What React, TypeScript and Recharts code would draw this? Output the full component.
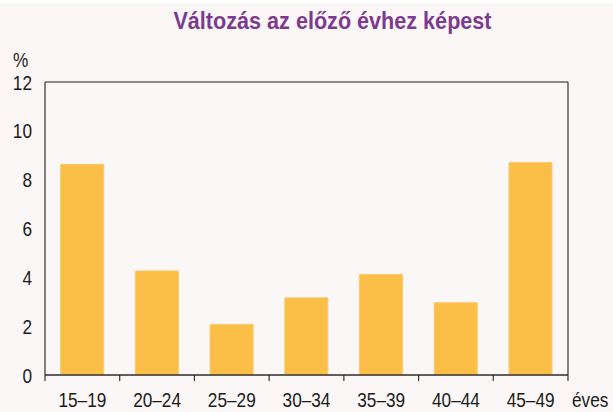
import React from 'react';
import { BarChart, Bar, XAxis, YAxis, CartesianGrid, ReferenceLine } from 'recharts';

const categories: string[] = ['15–19', '20–24', '25–29', '30–34', '35–39', '40–44', '45–49'];
const values: number[] = [8.62, 4.26, 2.07, 3.16, 4.12, 2.96, 8.7];
const yTicks: number[] = [0, 2, 4, 6, 8, 10, 12];
const titleText = 'Változás az előző évhez képest';
const yUnit = '%';
const xUnit = 'éves';

const data = categories.map((c, i) => ({ cat: c, value: values[i] }));

const SANS = '"Liberation Sans", Arial, sans-serif';
const AXIS = '#333333';
const TXT = '#1a1a1a';
const NARROW_SCALE = 0.82;

const NarrowText = ({ x, y, anchor, children, size = 21 }: any) => (
  <text
    transform={`translate(${x},${y}) scale(${NARROW_SCALE},1)`}
    x={0}
    y={0}
    textAnchor={anchor}
    fontFamily={SANS}
    fontSize={size}
    fill={TXT}
  >
    {children}
  </text>
);

const XTick = (props: any) => {
  const { x, y, payload, index, visibleTicksCount } = props;
  const half = payload && payload.offset != null ? payload.offset : 0;
  return (
    <g>
      <line x1={x - half} x2={x - half} y1={y} y2={y + 6} stroke={AXIS} strokeWidth={1.2} />
      {index === visibleTicksCount - 1 && (
        <line x1={x + half} x2={x + half} y1={y} y2={y + 6} stroke={AXIS} strokeWidth={1.2} />
      )}
      <NarrowText x={x} y={y + 32} anchor="middle">
        {payload.value}
      </NarrowText>
    </g>
  );
};

const YTick = (props: any) => {
  const { x, y, payload } = props;
  return (
    <NarrowText x={x} y={y + 7.5} anchor="end">
      {payload.value}
    </NarrowText>
  );
};

export default function App() {
  return (
    <div
      style={{
        position: 'absolute',
        left: 0,
        top: 0,
        width: 613,
        height: 412,
        background: '#fbf7f6',
        overflow: 'hidden',
      }}
    >
      <div style={{ position: 'absolute', left: 0, top: 0, width: 613, height: 3, background: '#ffffff' }} />
      <BarChart
        width={613}
        height={412}
        data={data}
        margin={{ top: 82, right: 0, bottom: 0, left: 0 }}
        barCategoryGap="21%"
      >
        <CartesianGrid vertical={false} stroke="#d5d1cf" strokeWidth={1} />
        <XAxis
          dataKey="cat"
          height={37}
          axisLine={{ stroke: AXIS, strokeWidth: 1.3 }}
          tickLine={false}
          tickSize={0}
          tickMargin={0}
          interval={0}
          tick={<XTick />}
        />
        <YAxis
          yAxisId="left"
          width={45}
          domain={[0, 12]}
          ticks={yTicks}
          interval={0}
          axisLine={{ stroke: AXIS, strokeWidth: 1.2 }}
          tickLine={false}
          tickSize={6}
          tickMargin={7}
          tick={<YTick />}
        />
        <YAxis
          yAxisId="right"
          orientation="right"
          width={45}
          domain={[0, 12]}
          ticks={yTicks}
          axisLine={{ stroke: AXIS, strokeWidth: 1.2 }}
          tickLine={false}
          tick={false}
        />
        <ReferenceLine yAxisId="left" y={12} stroke={AXIS} strokeWidth={1.2} ifOverflow="extendDomain" />
        <Bar
          yAxisId="left"
          dataKey="value"
          fill="#fbbe46"
          stroke="#fcc86a"
          strokeWidth={1}
          isAnimationActive={false}
        />
      </BarChart>
      <svg
        width={613}
        height={412}
        style={{ position: 'absolute', left: 0, top: 0, pointerEvents: 'none' }}
      >
        <text
          transform="translate(332.5,28.5) scale(0.9,1)"
          x={0}
          y={0}
          textAnchor="middle"
          fontFamily={SANS}
          fontWeight="bold"
          fontSize={24}
          fill="#7c3b8e"
        >
          {titleText}
        </text>
        <NarrowText x={13} y={67} anchor="start">
          {yUnit}
        </NarrowText>
        <NarrowText x={572} y={407} anchor="start">
          {xUnit}
        </NarrowText>
      </svg>
    </div>
  );
}
